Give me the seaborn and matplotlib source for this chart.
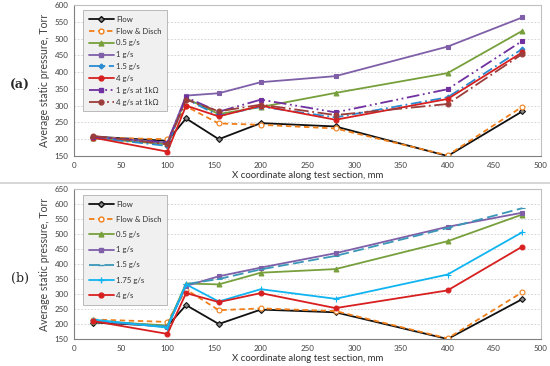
import matplotlib
matplotlib.use("Agg")
import matplotlib.pyplot as plt
import seaborn as sns
import pandas as pd
from matplotlib.lines import Line2D

sns.set_theme(style="white")
plt.rcParams['font.family'] = ['Lato', 'DejaVu Sans']

x_pos = [20, 100, 120, 155, 200, 280, 400, 480]

# Panel (a)
a_flow = [208, 195, 262, 200, 248, 238, 150, 283]
a_flow_disch = [205, 200, 298, 247, 243, 232, 152, 297]
a_05 = [203, 185, 322, 275, 296, 338, 397, 523]
a_1 = [207, 190, 330, 337, 370, 388, 476, 563]
a_15 = [205, 180, 320, 270, 297, 265, 325, 469]
a_4 = [205, 163, 300, 268, 300, 258, 320, 459]
a_1_1k = [207, 190, 325, 282, 318, 280, 349, 493]
a_4_1k = [210, 185, 318, 283, 303, 272, 305, 454]

# Panel (b)
b_flow = [205, 193, 263, 200, 248, 239, 150, 283]
b_flow_disch = [215, 207, 315, 246, 252, 243, 152, 306]
b_05 = [210, 195, 335, 332, 371, 383, 476, 565]
b_1 = [210, 190, 327, 359, 388, 436, 524, 571]
b_15 = [212, 192, 333, 350, 382, 427, 520, 586]
b_175 = [215, 188, 332, 275, 316, 284, 365, 506]
b_4 = [210, 167, 303, 273, 303, 253, 312, 458]

x_ticks = [0, 50, 100, 150, 200, 250, 300, 350, 400, 450, 500]

styles = {
    "Flow": dict(color="#111111", marker="D", ls="-", ms=3, mfc="#888888"),
    "Flow & Disch": dict(color="#F07F1A", marker="o", ls=(0, (3, 2)), ms=3.5, mfc="white"),
    "0.5 g/s": dict(color="#77A03C", marker="^", ls="-", ms=3.5, mfc="#77A03C"),
    "1 g/s": dict(color="#7E5FA8", marker="s", ls="-", ms=3.5, mfc="#7E5FA8"),
    "1.5 g/s a": dict(color="#2A8BD0", marker="D", ls=(0, (6, 2, 1, 2)), ms=2.5, mfc="#2A8BD0"),
    "4 g/s": dict(color="#D81F1F", marker="o", ls="-", ms=3.5, mfc="#D81F1F"),
    "1 g/s at 1kΩ": dict(color="#7030A0", marker="s", ls=(0, (7, 2, 1, 2, 1, 2)), ms=3.5, mfc="#7030A0"),
    "4 g/s at 1kΩ": dict(color="#9B3D3A", marker="o", ls=(0, (8, 2, 1, 2)), ms=3.5, mfc="#9B3D3A"),
    "1.5 g/s b": dict(color="#3A97B8", marker="_", ls=(0, (6, 2.5)), ms=4, mfc="#3A97B8"),
    "1.75 g/s": dict(color="#10B4F0", marker="+", ls="-", ms=4, mfc="#10B4F0"),
}

panel_a = [("Flow", a_flow, "Flow"), ("Flow & Disch", a_flow_disch, "Flow & Disch"),
           ("0.5 g/s", a_05, "0.5 g/s"), ("1 g/s", a_1, "1 g/s"),
           ("1.5 g/s", a_15, "1.5 g/s a"), ("4 g/s", a_4, "4 g/s"),
           ("1 g/s at 1kΩ", a_1_1k, "1 g/s at 1kΩ"), ("4 g/s at 1kΩ", a_4_1k, "4 g/s at 1kΩ")]
panel_b = [("Flow", b_flow, "Flow"), ("Flow & Disch", b_flow_disch, "Flow & Disch"),
           ("0.5 g/s", b_05, "0.5 g/s"), ("1 g/s", b_1, "1 g/s"),
           ("1.5 g/s", b_15, "1.5 g/s b"), ("1.75 g/s", b_175, "1.75 g/s"),
           ("4 g/s", b_4, "4 g/s")]

fig = plt.figure(figsize=(5.5, 3.66), dpi=100)
ax_a = fig.add_axes([74/550, 1-156/366, (541-74)/550, (156-5)/366])
ax_b = fig.add_axes([74/550, 1-339/366, (541-74)/550, (339-189)/366])

def draw(ax, series, ylim, yticks, leg_box, lspace):
    handles = []
    for name, vals, key in series:
        st = styles[key]
        df = pd.DataFrame({"x": x_pos, "y": vals})
        sns.lineplot(data=df, x="x", y="y", ax=ax, color=st["color"], linestyle=st["ls"],
                     marker=st["marker"], markersize=st["ms"], markerfacecolor=st["mfc"],
                     markeredgecolor=st["color"], markeredgewidth=0.8, linewidth=1.3,
                     estimator=None, sort=False)
        handles.append(Line2D([], [], color=st["color"], linestyle=st["ls"], marker=st["marker"],
                              markersize=st["ms"], markerfacecolor=st["mfc"],
                              markeredgecolor=st["color"], linewidth=1.3, label=name))
    ax.set_xlim(0, 500)
    ax.set_ylim(*ylim)
    ax.set_xticks(x_ticks)
    ax.set_yticks(yticks)
    ax.tick_params(axis="both", labelsize=5.8, colors="#404040", length=2, pad=2, direction="out")
    ax.tick_params(axis="both", color="#808080")
    ax.yaxis.grid(True, linestyle=(0, (2, 2)), color="#cfcfcf", linewidth=0.6)
    ax.xaxis.grid(False)
    for s in ["top", "right"]:
        ax.spines[s].set_color("#c0c0c0")
        ax.spines[s].set_linewidth(0.8)
    for s in ["left", "bottom"]:
        ax.spines[s].set_color("#808080")
        ax.spines[s].set_linewidth(0.8)
    ax.set_ylabel("Average static pressure, Torr", fontsize=7.6, color="#404040", labelpad=3)
    ax.set_xlabel("X coordinate along test section, mm", fontsize=6.9, color="#303030", labelpad=1.5)
    leg = ax.legend(handles=handles, loc="upper left", bbox_to_anchor=leg_box, fontsize=5.6,
                    frameon=True, fancybox=False, facecolor="#f0f0f0", edgecolor="#b0b0b0",
                    framealpha=1, handlelength=3.2, labelspacing=lspace, borderpad=0.75,
                    handletextpad=0.3, borderaxespad=0)
    leg.get_frame().set_linewidth(0.6)
    for t in leg.get_texts():
        t.set_color("#303030")

draw(ax_a, panel_a, (150, 600), list(range(150, 601, 50)), ((83-74)/467, (156-10)/151), 0.62)
draw(ax_b, panel_b, (150, 650), list(range(150, 651, 50)), ((83-74)/467, (339-195)/150), 1.05)

fig.text(20/550, 1-85/366, "(a)", fontsize=9, family="DejaVu Serif", weight="bold", ha="center", va="center")
fig.text(20/550, 1-278/366, "(b)", fontsize=9, family="DejaVu Serif", ha="center", va="center")
fig.add_artist(Line2D([0, 1], [1-183/366, 1-183/366], color="#d0d0d0", linewidth=1.2,
                      transform=fig.transFigure))

fig.savefig("out.png", dpi=100)
